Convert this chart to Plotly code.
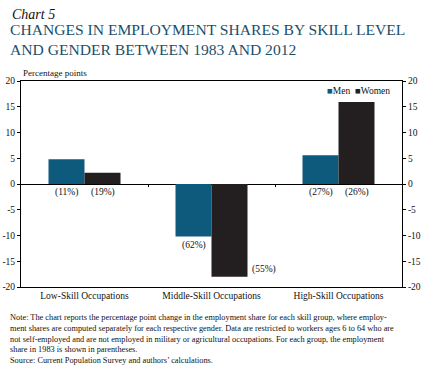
import plotly.graph_objects as go

categories = ["Low-Skill Occupations", "Middle-Skill Occupations", "High-Skill Occupations"]
men_change = [4.8, -10.2, 5.6]
women_change = [2.2, -18.0, 15.9]
men_share_1983 = ["(11%)", "(62%)", "(27%)"]
women_share_1983 = ["(19%)", "(55%)", "(26%)"]
y_ticks = [-20, -15, -10, -5, 0, 5, 10, 15, 20]

MEN_COLOR = "#0e5a7c"
WOMEN_COLOR = "#231f20"
TITLE_COLOR = "#1b4f6b"
FONT = "Liberation Serif"

BARGAP = 0.433
bar_w = (1 - BARGAP) / 2
xpos = list(range(len(categories)))
ymin, ymax = y_ticks[0], y_ticks[-1]

fig = go.Figure()
fig.add_trace(go.Bar(x=xpos, y=men_change, name="Men", marker=dict(color=MEN_COLOR, line=dict(width=0)),
                     showlegend=False))
fig.add_trace(go.Bar(x=xpos, y=women_change, name="Women", marker=dict(color=WOMEN_COLOR, line=dict(width=0)),
                     showlegend=False))
# helper traces so the right axis and zero-line tick axis are drawn
fig.add_trace(go.Scatter(x=[None], y=[None], yaxis="y2", showlegend=False, hoverinfo="skip"))
fig.add_trace(go.Scatter(x=[None], y=[None], xaxis="x2", showlegend=False, hoverinfo="skip"))

annotations = []
label_font = dict(family=FONT, size=9.5, color="#111")
for i in xpos:
    for val, lab, off in ((men_change[i], men_share_1983[i], -bar_w / 2),
                          (women_change[i], women_share_1983[i], bar_w / 2)):
        cx = i + off
        if val >= 0:
            annotations.append(dict(x=cx, y=0, xref="x", yref="y", text=lab, showarrow=False,
                                    xanchor="center", yanchor="top", yshift=-1, font=label_font))
        elif val - 4 > ymin:
            annotations.append(dict(x=cx, y=val, xref="x", yref="y", text=lab, showarrow=False,
                                    xanchor="center", yanchor="top", yshift=-1, font=label_font))
        else:
            annotations.append(dict(x=cx + bar_w / 2, y=val, xref="x", yref="y", text=lab, showarrow=False,
                                    xanchor="left", yanchor="bottom", xshift=2, font=label_font))

# legend
annotations.append(dict(
    x=0.975, y=0.953, xref="paper", yref="paper", xanchor="right", yanchor="middle", showarrow=False,
    text=f"<span style='color:{MEN_COLOR}'>■</span>Men  <span style='color:{WOMEN_COLOR}'>■</span>Women",
    font=dict(family=FONT, size=9.5, color="#111")))

# titles and notes
annotations.append(dict(x=-0.03, y=1.325, xref="paper", yref="paper", xanchor="left", yanchor="middle",
                        showarrow=False, text="<i>Chart 5</i>",
                        font=dict(family=FONT, size=14, color="#111")))
annotations.append(dict(x=-0.035, y=1.3, xref="paper", yref="paper", xanchor="left", yanchor="top",
                        showarrow=False, align="left",
                        text="CHANGES IN EMPLOYMENT SHARES BY SKILL LEVEL<br>AND GENDER BETWEEN 1983 AND 2012",
                        font=dict(family=FONT, size=15.6, color=TITLE_COLOR)))
annotations.append(dict(x=0.0, y=1.0, xref="paper", yref="paper", xanchor="left", yanchor="bottom",
                        showarrow=False, text="Percentage points", yshift=1,
                        font=dict(family=FONT, size=9, color="#111")))
note = ("Note: The chart reports the percentage point change in the employment share for each skill group, where employ-<br>"
        "ment shares are computed separately for each respective gender. Data are restricted to workers ages 6 to 64 who are<br>"
        "not self-employed and are not employed in military or agricultural occupations. For each group, the employment<br>"
        "share in 1983 is shown in parentheses.<br>"
        "Source: Current Population Survey and authors’ calculations.")
annotations.append(dict(x=-0.034, y=-0.115, xref="paper", yref="paper", xanchor="left", yanchor="top",
                        showarrow=False, align="left", text=note,
                        font=dict(family=FONT, size=8.3, color="#111")))

yaxis_common = dict(range=[ymin, ymax], tickvals=y_ticks, ticktext=[str(v) for v in y_ticks],
                    ticks="outside", ticklen=3, tickcolor="#000",
                    tickfont=dict(family=FONT, size=9.5, color="#111"), showgrid=False, fixedrange=True,
                    automargin=False)

fig.update_layout(
    width=430, height=368,
    margin=dict(l=21, r=28, t=81, b=81),
    paper_bgcolor="white", plot_bgcolor="white",
    barmode="group", bargap=BARGAP, bargroupgap=0,
    showlegend=False,
    xaxis=dict(range=[-0.5, len(categories) - 0.5], tickvals=xpos, ticktext=categories, ticks="",
               showline=True, linecolor="#000", linewidth=1, mirror=True, showgrid=False, zeroline=False,
               tickfont=dict(family=FONT, size=9.5, color="#111"), automargin=False, fixedrange=True),
    xaxis2=dict(range=[-0.5, len(categories) - 0.5], overlaying="x", anchor="free",
                position=(0 - ymin) / (ymax - ymin), side="bottom",
                tickvals=[i + 0.5 for i in xpos[:-1]], ticks="outside", ticklen=2, tickcolor="#000",
                showticklabels=False, showline=False, showgrid=False, zeroline=False, automargin=False,
                fixedrange=True),
    yaxis=dict(**yaxis_common, showline=True, linecolor="#000", linewidth=1, mirror=True,
               zeroline=True, zerolinecolor="#000", zerolinewidth=1),
    yaxis2=dict(**yaxis_common, overlaying="y", side="right", showline=False, zeroline=False),
    annotations=annotations,
)

# remove the browser's default 8px body margin so the 430x368 figure fills the window
fig.write_html("out.html", config={"displayModeBar": False},
               post_script="document.body.style.margin='0px';")
